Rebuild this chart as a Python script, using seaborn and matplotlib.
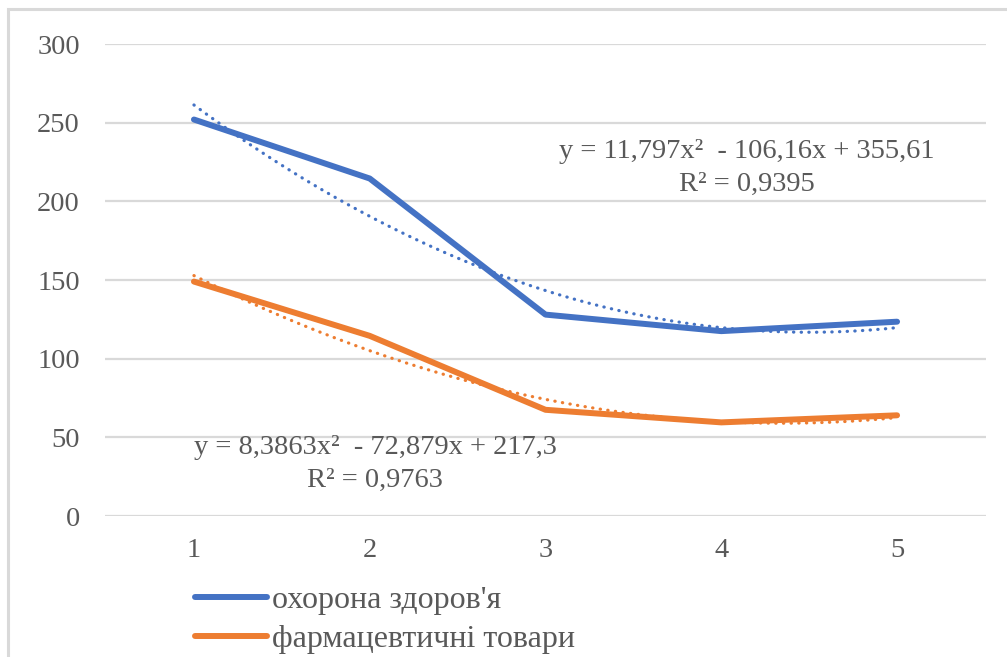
import numpy as np
import pandas as pd
import matplotlib
matplotlib.use("Agg")
import matplotlib.pyplot as plt
from matplotlib.patches import Rectangle
from matplotlib.lines import Line2D
import seaborn as sns

# Data
periods = [1, 2, 3, 4, 5]
health = [252, 214.5, 128, 117.5, 123.5]
pharma = [149, 114.5, 67.5, 59.5, 64]
series_names = ["охорона здоров'я", "фармацевтичні товари"]

# Quadratic trend coefficients (a, b, c) for y = a*x^2 + b*x + c
health_trend = [11.797, -106.16, 355.61]
pharma_trend = [8.3863, -72.879, 217.3]
health_r2 = "0,9395"
pharma_r2 = "0,9763"

y_ticks = [0, 50, 100, 150, 200, 250, 300]

BLUE = "#4472C4"
ORANGE = "#ED7D31"
GRID = "#D9D9D9"
TEXT = "#595959"
FS = 20.5
LEG_FS = 23

sns.set_theme(style="white")
plt.rcParams["font.family"] = ["Liberation Serif", "DejaVu Serif"]

W, H = 1007, 657
fig = plt.figure(figsize=(W / 100, H / 100), dpi=100)
ax = fig.add_axes([105 / W, (H - 516) / H, (986 - 105) / W, (516 - 44) / H])

df = pd.DataFrame({
    "period": periods * 2,
    "value": health + pharma,
    "series": [series_names[0]] * 5 + [series_names[1]] * 5,
})

sns.lineplot(data=df, x="period", y="value", hue="series",
             palette=[BLUE, ORANGE], linewidth=4.3, ax=ax,
             solid_capstyle="round", legend=False)

xs = np.linspace(periods[0], periods[-1], 200)
for coefs, color in [(health_trend, BLUE), (pharma_trend, ORANGE)]:
    ax.plot(xs, np.polyval(coefs, xs), color=color, linewidth=2.3,
            linestyle=(0, (0.1, 2.3)), dash_capstyle="round")


def fmt(v):
    return f"{v}".replace(".", ",")


def eq_text(c):
    a, b, k = c
    return f"y = {fmt(a)}x\u00b2  - {fmt(abs(b))}x + {fmt(k)}"


# Trend equation labels, placed in axes-fraction coordinates
def label(xfrac, yfrac, s):
    ax.text(xfrac, yfrac, s, transform=ax.transAxes, ha="center",
            va="center", fontsize=FS, color=TEXT)


def to_frac(px, py):
    return (px - 105) / (986 - 105), (516 - py) / (516 - 44)


label(*to_frac(747, 152), eq_text(health_trend))
label(*to_frac(747, 184), f"R\u00b2 = {health_r2}")
label(*to_frac(375, 447), eq_text(pharma_trend))
label(*to_frac(375, 480), f"R\u00b2 = {pharma_r2}")

ax.set_xlim(0.494, 5.506)
ax.set_ylim(0, 300)
ax.set_yticks(y_ticks)
ax.set_xticks(periods)
ax.set_xticklabels([str(p) for p in periods])
ax.yaxis.grid(True, color=GRID, linewidth=1.6)
ax.xaxis.grid(False)
for s in ax.spines.values():
    s.set_visible(False)
ax.tick_params(axis="both", length=0, labelsize=FS, labelcolor=TEXT)
ax.tick_params(axis="y", pad=18)
ax.tick_params(axis="x", pad=16)
ax.set_xlabel("")
ax.set_ylabel("")

# Legend below the plot
handles = [Line2D([0], [0], color=BLUE, linewidth=4.3, solid_capstyle="round"),
           Line2D([0], [0], color=ORANGE, linewidth=4.3, solid_capstyle="round")]
leg = fig.legend(handles, series_names, loc="upper left",
                 bbox_to_anchor=(195 / W, (H - 586) / H), frameon=False,
                 fontsize=LEG_FS, handlelength=2.25, handletextpad=0.15,
                 labelspacing=0.3, borderaxespad=0, borderpad=0)
for t in leg.get_texts():
    t.set_color(TEXT)

# Outer chart frame
fig.patches.append(Rectangle((8 / W, -0.2), 1.5, (H - 9) / H + 0.2,
                             transform=fig.transFigure, fill=False,
                             edgecolor=GRID, linewidth=2.2, zorder=0))

fig.savefig("out.png", dpi=100, facecolor="white")
